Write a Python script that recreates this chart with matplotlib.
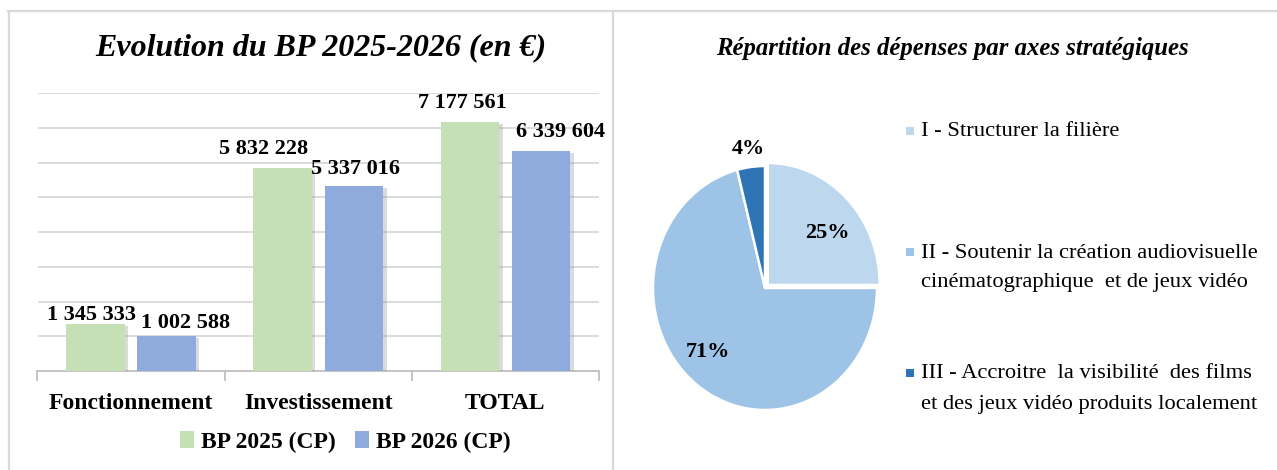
import matplotlib
matplotlib.use('Agg')
import matplotlib.pyplot as plt
import matplotlib.patheffects as pe
from matplotlib.lines import Line2D
from matplotlib.patches import Rectangle, Patch
import numpy as np

# ---------------- data ----------------
categories = ['Fonctionnement', 'Investissement', 'TOTAL']
bp2025 = [1345333, 5832228, 7177561]
bp2026 = [1002588, 5337016, 6339604]
series_names = ['BP 2025 (CP)', 'BP 2026 (CP)']

pie_labels = ['I - Structurer la filière',
              'II - Soutenir la création audiovisuelle\ncinématographique  et de jeux vidéo',
              'III - Accroitre  la visibilité  des films\net des jeux vidéo produits localement']
pie_shares = [25, 71, 4]

# ---------------- style ----------------
W, H = 1277, 470
plt.rcParams['font.family'] = ['Liberation Serif', 'DejaVu Serif']
green = '#C5E0B4'
blue = '#8FAADC'
pie_colors = ['#BDD7EE', '#9DC3E6', '#2E75B6']
frame_col = '#D9D9D9'

fig = plt.figure(figsize=(W / 100, H / 100), dpi=100)

def fx(px):
    return px / W

def fy(py):
    return 1 - py / H

# panel frames
for (x0, y0, x1, y1) in [(8, 10.5, W, 10.5), (8.5, 10.5, 8.5, H), (612.5, 10.5, 612.5, H)]:
    fig.add_artist(Line2D([fx(x0), fx(x1)], [fy(y0), fy(y1)], color=frame_col, lw=1.6))

# ---------------- bar chart ----------------
ax = fig.add_axes([fx(37.5), fy(371), fx(599) - fx(37.5), fy(93) - fy(371)])
x = np.arange(len(categories))
bw = 0.313
off = 0.19
shadow = [pe.SimplePatchShadow(offset=(2.5, -1.5), shadow_rgbFace='#888888', alpha=0.3), pe.Normal()]
b1 = ax.bar(x - off, bp2025, bw, color=green, zorder=3, path_effects=shadow)
b2 = ax.bar(x + off, bp2026, bw, color=blue, zorder=3, path_effects=shadow)

ax.set_xlim(-0.5, 2.5)
ax.set_ylim(0, 8000000)
ax.set_yticks(np.arange(1000000, 8000001, 1000000))
ax.yaxis.grid(True, color=frame_col, lw=1.3, zorder=0)
ax.tick_params(axis='y', left=False, labelleft=False)
for s in ['left', 'right', 'top']:
    ax.spines[s].set_visible(False)
ax.spines['bottom'].set_color('#BFBFBF')
ax.spines['bottom'].set_linewidth(1.3)
ax.set_xticks(x)
ax.set_xticklabels(categories, fontsize=17, fontweight='bold')
ax.tick_params(axis='x', which='major', length=0, pad=16)
ax.set_xticks(np.arange(-0.5, 2.6, 1.0), minor=True)
ax.tick_params(axis='x', which='minor', length=7, width=1.3, color='#BFBFBF')

def fmt(v):
    return f"{v:,}".replace(',', ' ')

lab_off_2025 = [(-4, 9), (-19, 19), (-7, 19)]
lab_off_2026 = [(19, 13), (2, 17), (20, 19)]
for bars, vals, offs in [(b1, bp2025, lab_off_2025), (b2, bp2026, lab_off_2026)]:
    for r, v, o in zip(bars, vals, offs):
        ax.annotate(fmt(v), (r.get_x() + r.get_width() / 2, v), xytext=o,
                    textcoords='offset pixels', ha='center', va='center',
                    fontsize=16, fontweight='bold', zorder=5)

fig.text(fx(321), fy(48), 'Evolution du BP 2025-2026 (en €)', ha='center', va='center',
         fontsize=23, fontweight='bold', fontstyle='italic')

fig.legend(handles=[Patch(facecolor=green), Patch(facecolor=blue)], labels=series_names,
           loc='center', bbox_to_anchor=(fx(345), fy(442)), ncol=2, frameon=False,
           prop=dict(size=17, weight='bold'), handlelength=0.6, handleheight=0.75,
           handletextpad=0.3, columnspacing=0.8)

# ---------------- pie chart ----------------
cx, cy, rx, ry = 765, 288, 112, 122
pax = fig.add_axes([fx(cx - rx), fy(cy + ry), 2 * rx / W, 2 * ry / H])
wedges, _ = pax.pie(pie_shares, startangle=90, counterclock=False, colors=pie_colors,
                    explode=[0.035, 0, 0],
                    wedgeprops=dict(edgecolor='white', linewidth=1.8))
pax.set_aspect('auto')
pax.set_xlim(-1, 1)
pax.set_ylim(-1, 1)
pax.axis('off')
for w in wedges:
    w.set_clip_on(False)

dists = [0.68, 0.73, 1.15]
angle_tweak = [-6, -6.6, 0]
for w, share, d, t in zip(wedges, pie_shares, dists, angle_tweak):
    th = np.deg2rad((w.theta1 + w.theta2) / 2 + t)
    c = w.center
    pax.text(c[0] + d * np.cos(th), c[1] + d * np.sin(th), f'{share}%', ha='center', va='center',
             fontsize=16, fontweight='bold', clip_on=False)

fig.text(fx(952), fy(48), 'Répartition des dépenses par axes stratégiques', ha='center', va='center',
         fontsize=17.8, fontweight='bold', fontstyle='italic')

# pie legend
leg_y = [131, 252, 373]
for lab, col, yy in zip(pie_labels, pie_colors, leg_y):
    fig.add_artist(Rectangle((fx(906), fy(yy + 4)), 8 / W, 8 / H, transform=fig.transFigure,
                             facecolor=col, edgecolor='none'))
    for i, ln in enumerate(lab.split('\n')):
        fig.text(fx(921), fy(yy + 1 + i * 30), ln, ha='left', va='center', fontsize=16.2)

fig.savefig('out.png', dpi=100)
